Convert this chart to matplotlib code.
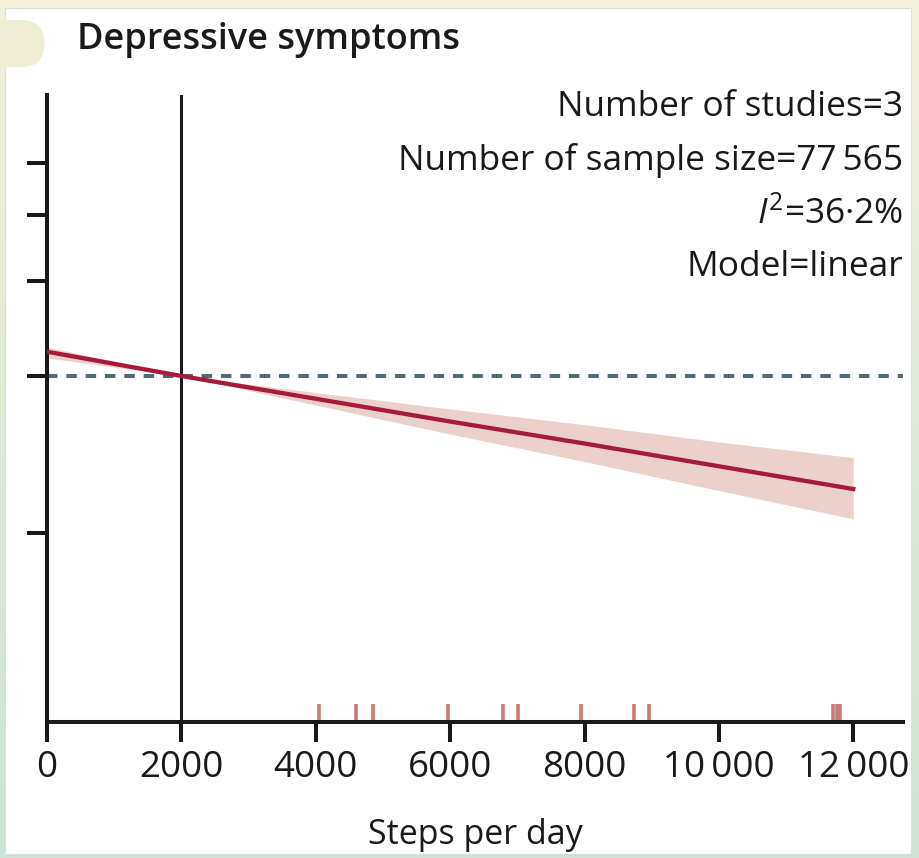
import numpy as np
import matplotlib
matplotlib.use("Agg")
import matplotlib.pyplot as plt
from matplotlib.patches import Rectangle, FancyBboxPatch
import matplotlib.transforms as mtransforms

plt.rcParams["font.family"] = ["Open Sans", "DejaVu Sans"]
plt.rcParams["mathtext.fontset"] = "custom"
plt.rcParams["mathtext.rm"] = "Open Sans"
plt.rcParams["mathtext.it"] = "Open Sans:italic"

# dose-response curve (relative risk vs steps per day)
steps = [0, 2000, 4000, 6000, 8000, 10000, 12000]
rr = [1.031, 1.0, 0.971, 0.942, 0.914, 0.885, 0.856]
rr_upper = [1.037, 1.0, 0.979, 0.958, 0.938, 0.916, 0.896]
rr_lower = [1.023, 1.0, 0.963, 0.926, 0.891, 0.854, 0.818]

# observed exposure levels in the studies (rug)
rug_steps = [4048, 4594, 4856, 5972, 6790, 7013, 7946, 8735, 8963, 11692, 11751, 11801]

xticks = [0, 2000, 4000, 6000, 8000, 10000, 12000]
xticklabels = ["0", "2000", "4000", "6000", "8000", "10\u2009000", "12\u2009000"]
yticks = [0.8, 1.0, 1.121, 1.205, 1.271]

annotations = ["Number of studies=3",
               "Number of sample size=77\u2009565",
               "$\\mathit{I}^{2}$=36·2%",
               "Model=linear"]

W, H = 920, 858
fig = plt.figure(figsize=(W / 100, H / 100), dpi=100)

# background frame: gradient border + white panel
bg = fig.add_axes([0, 0, 1, 1], zorder=-10)
grad = np.linspace(0, 1, 256)[:, None]
top_c = np.array([0.95, 0.945, 0.86])
bot_c = np.array([0.80, 0.89, 0.83])
img = top_c[None, None, :] * (1 - grad[:, :, None]) + bot_c[None, None, :] * grad[:, :, None]
bg.imshow(np.repeat(img, 2, axis=1), aspect="auto", extent=[0, 1, 0, 1])
bg.add_patch(Rectangle((5 / W, 4 / H), 906 / W, (H - 12) / H, facecolor="white",
                       edgecolor="#dddddd", linewidth=0.8))
bg.add_patch(FancyBboxPatch((-0.05, (H - 67) / H), (72 / W) + 0.02, 47 / H,
                            boxstyle="round,pad=0,rounding_size=0.025",
                            facecolor="#efedd6", edgecolor="none",
                            mutation_aspect=W / H))
bg.set_xlim(0, 1)
bg.set_ylim(0, 1)
bg.axis("off")

ax = fig.add_axes([47 / W, 136 / H, 856 / W, 627 / H])
ax.set_facecolor("none")

ax.fill_between(steps, rr_lower, rr_upper, color="#ecd0cb", linewidth=0, zorder=1)
ax.plot(steps, rr, color="#a51c3a", linewidth=3.1, zorder=3)
ax.axhline(1.0, color="#556a75", linewidth=2.9, dashes=(2.6, 2.2), zorder=2)
ax.axvline(2000, color="#1a1a1a", linewidth=2.2, zorder=2)

trans = mtransforms.blended_transform_factory(ax.transData, ax.transAxes)
ax.vlines(rug_steps, 0, 0.029, transform=trans, color="#c97b7b", linewidth=2.6, zorder=2)

ax.set_xlim(0, 12740)
ax.set_ylim(0.5592, 1.358)

for s in ["top", "right"]:
    ax.spines[s].set_visible(False)
for s in ["left", "bottom"]:
    ax.spines[s].set_linewidth(2.9)
    ax.spines[s].set_color("#1a1a1a")

ax.set_xticks(xticks)
ax.set_xticklabels(xticklabels)
ax.set_yticks(yticks)
ax.set_yticklabels([])
ax.tick_params(axis="both", length=14.5, width=2.9, color="#1a1a1a", direction="out")
ax.tick_params(axis="x", labelsize=26.5, pad=6, labelcolor="#1a1a1a")
ax.set_xlabel("Steps per day", fontsize=24.5, color="#1a1a1a", labelpad=23)

fig.text(77 / W, 1 - 40 / H, "Depressive symptoms", fontsize=26, fontweight="semibold",
         color="#1a1a1a", ha="left", va="center")

for i, t in enumerate(annotations):
    fig.text(903 / W, 1 - (107 + 53.3 * i) / H, t, fontsize=25.4, color="#1a1a1a",
             ha="right", va="center")

fig.savefig("out.png", dpi=100)
